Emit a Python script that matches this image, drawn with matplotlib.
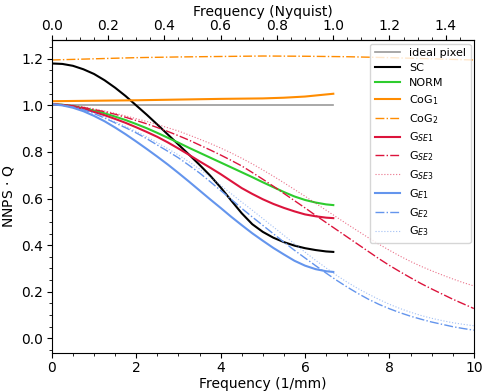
import numpy as np
import matplotlib
matplotlib.use('Agg')
import matplotlib.pyplot as plt
from matplotlib.ticker import MultipleLocator

NYQ = 6.667  # 1/mm, Nyquist frequency

# frequency samples (1/mm)
f_full = np.arange(0, 10.01, 0.25)                 # 0 .. 10
f_nyq = np.append(np.arange(0, 6.51, 0.25), 6.67)  # 0 .. Nyquist
f_cog = [0, 1, 2, 3, 4, 5, 5.5, 6, 6.5, 6.67]
f_cog2 = [0, 1, 2, 3, 4, 5, 6, 7, 8, 9, 10]

ideal = [1.0] * len(f_nyq)
sc = [1.18, 1.178, 1.17, 1.155, 1.135, 1.108, 1.076, 1.04, 1.0, 0.96, 0.918,
      0.875, 0.832, 0.789, 0.745, 0.699, 0.648, 0.592, 0.537, 0.49, 0.457,
      0.432, 0.413, 0.398, 0.387, 0.379, 0.373, 0.371]
norm = [1.005, 1.003, 0.997, 0.988, 0.978, 0.966, 0.952, 0.937, 0.92, 0.902,
        0.882, 0.861, 0.84, 0.818, 0.797, 0.776, 0.755, 0.734, 0.713, 0.692,
        0.67, 0.649, 0.628, 0.609, 0.594, 0.583, 0.575, 0.572]
cog1 = [1.018, 1.02, 1.022, 1.025, 1.028, 1.03, 1.033, 1.038, 1.047, 1.05]
cog2 = [1.195, 1.2, 1.205, 1.208, 1.21, 1.212, 1.211, 1.209, 1.205, 1.2, 1.195]
gse1 = [1.005, 1.002, 0.995, 0.985, 0.972, 0.958, 0.942, 0.925, 0.906, 0.886,
        0.865, 0.841, 0.815, 0.788, 0.76, 0.733, 0.705, 0.675, 0.645, 0.62,
        0.597, 0.577, 0.56, 0.545, 0.532, 0.524, 0.518, 0.516]
gse2 = [1.005, 1.003, 0.998, 0.991, 0.982, 0.973, 0.962, 0.949, 0.935, 0.921,
        0.905, 0.888, 0.87, 0.851, 0.83, 0.809, 0.787, 0.764, 0.74, 0.712,
        0.683, 0.653, 0.622, 0.591, 0.56, 0.528, 0.497, 0.466, 0.435, 0.404,
        0.373, 0.342, 0.313, 0.286, 0.26, 0.235, 0.212, 0.19, 0.168, 0.148,
        0.128]
gse3 = [1.005, 1.004, 1.0, 0.993, 0.985, 0.976, 0.966, 0.955, 0.943, 0.931,
        0.918, 0.904, 0.89, 0.873, 0.855, 0.837, 0.817, 0.796, 0.773, 0.749,
        0.723, 0.696, 0.668, 0.639, 0.61, 0.58, 0.55, 0.52, 0.49, 0.461,
        0.432, 0.404, 0.378, 0.353, 0.33, 0.309, 0.29, 0.272, 0.255, 0.239,
        0.225]
ge1 = [1.005, 1.0, 0.99, 0.975, 0.955, 0.932, 0.905, 0.876, 0.845, 0.813,
       0.78, 0.746, 0.71, 0.673, 0.635, 0.597, 0.56, 0.522, 0.486, 0.451,
       0.419, 0.388, 0.36, 0.333, 0.312, 0.297, 0.288, 0.285]
ge2 = [1.005, 1.001, 0.993, 0.981, 0.965, 0.946, 0.925, 0.904, 0.882, 0.857,
       0.83, 0.803, 0.775, 0.743, 0.71, 0.673, 0.635, 0.597, 0.558, 0.521,
       0.485, 0.449, 0.413, 0.378, 0.345, 0.312, 0.28, 0.249, 0.22, 0.193,
       0.168, 0.146, 0.127, 0.11, 0.095, 0.082, 0.07, 0.06, 0.05, 0.042, 0.035]
ge3 = [1.005, 1.001, 0.994, 0.983, 0.968, 0.95, 0.93, 0.91, 0.888, 0.865,
       0.84, 0.814, 0.787, 0.758, 0.727, 0.693, 0.657, 0.621, 0.585, 0.55,
       0.514, 0.478, 0.442, 0.406, 0.37, 0.335, 0.302, 0.27, 0.241, 0.214,
       0.19, 0.167, 0.146, 0.128, 0.112, 0.098, 0.086, 0.076, 0.067, 0.06,
       0.054]

nyq_ticks = [0.0, 0.2, 0.4, 0.6, 0.8, 1.0, 1.2, 1.4]

green = '#2ecc2e'
orange = '#ff8c00'
red = '#dc143c'
blue = '#6495ed'

fig = plt.figure(figsize=(4.84, 3.92), dpi=100)
ax = fig.add_axes([0.107, 0.0995, 0.872, 0.798])

ax.plot(f_nyq, ideal, color='#999999', lw=1.2, label='ideal pixel')
ax.plot(f_nyq, sc, color='black', lw=1.5, label='SC')
ax.plot(f_nyq, norm, color=green, lw=1.5, label='NORM')
ax.plot(f_cog, cog1, color=orange, lw=1.5, label='CoG$_1$')
ax.plot(f_cog2, cog2, color=orange, lw=1.0, ls='-.', label='CoG$_2$')
ax.plot(f_nyq, gse1, color=red, lw=1.5, label='G$_{SE1}$')
ax.plot(f_full, gse2, color=red, lw=1.0, ls='-.', label='G$_{SE2}$')
ax.plot(f_full, gse3, color=red, lw=0.8, ls=':', alpha=0.6, label='G$_{SE3}$')
ax.plot(f_nyq, ge1, color=blue, lw=1.5, label='G$_{E1}$')
ax.plot(f_full, ge2, color=blue, lw=1.0, ls='-.', label='G$_{E2}$')
ax.plot(f_full, ge3, color=blue, lw=0.8, ls=':', alpha=0.6, label='G$_{E3}$')

ax.set_xlim(0, 10)
ax.set_ylim(-0.063, 1.28)
ax.xaxis.set_major_locator(MultipleLocator(2))
ax.xaxis.set_minor_locator(MultipleLocator(0.5))
ax.yaxis.set_major_locator(MultipleLocator(0.2))
ax.yaxis.set_minor_locator(MultipleLocator(0.05))
ax.tick_params(labelsize=10, pad=2.5)
ax.set_xlabel('Frequency (1/mm)', fontsize=10, labelpad=1)
ax.set_ylabel('NNPS $\\cdot$ Q', fontsize=10)

top = ax.secondary_xaxis('top', functions=(lambda x: x / NYQ, lambda n: n * NYQ))
top.set_xticks(nyq_ticks)
top.set_xticklabels(['%.1f' % t for t in nyq_ticks])
top.xaxis.set_minor_locator(MultipleLocator(0.05))
top.tick_params(labelsize=10, pad=2)
top.set_xlabel('Frequency (Nyquist)', fontsize=10, labelpad=2)

ax.legend(loc='upper right', fontsize=8, handlelength=2.3, labelspacing=0.45,
          borderaxespad=0.3)

fig.savefig('out.png', dpi=100)
